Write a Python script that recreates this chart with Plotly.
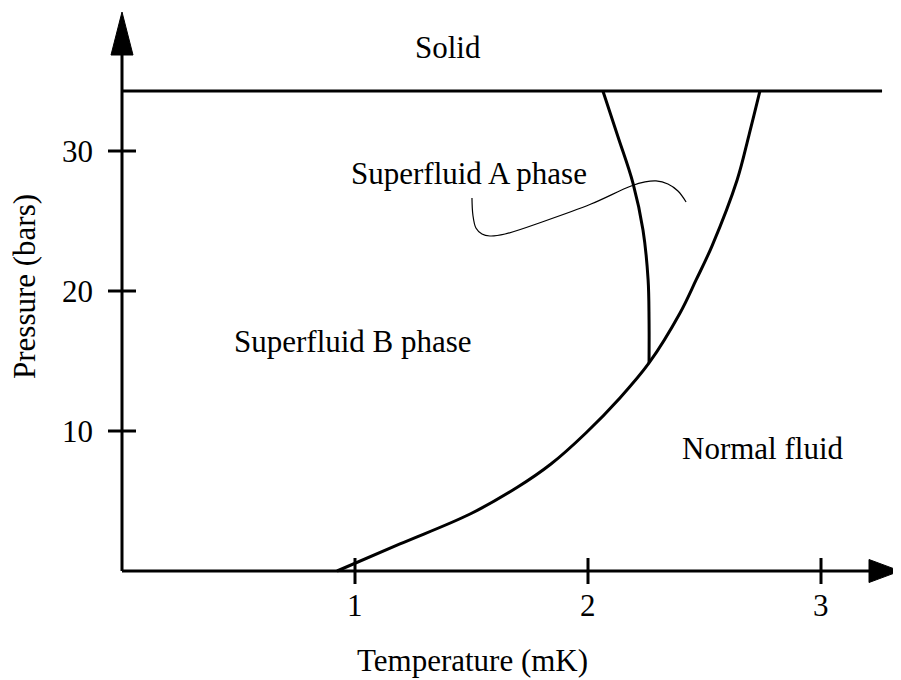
import plotly.graph_objects as go

# ---------------- data ----------------
# Normal fluid / superfluid boundary  (T in mK, P in bars)
normal_T = [0.923, 1.193, 1.494, 1.695, 1.841, 1.991, 2.137, 2.262,
            2.395, 2.464, 2.532, 2.640, 2.691, 2.738]
normal_P = [0.00, 1.93, 4.07, 5.96, 7.64, 9.86, 12.36, 14.86,
            18.43, 20.79, 23.21, 27.93, 31.14, 34.29]

# A-phase / B-phase boundary
ab_T = [2.262, 2.262, 2.258, 2.236, 2.193, 2.129, 2.064]
ab_P = [14.86, 17.93, 20.79, 24.36, 27.71, 31.00, 34.29]

# Solid boundary (melting pressure)
solid_T = [0.0, 3.262]
solid_P = [34.29, 34.29]

# Leader line from the "Superfluid A phase" label
lead_T = [1.502, 1.506, 1.519, 1.545, 1.579, 1.644, 1.815, 2.013, 2.185, 2.245, 2.292, 2.343, 2.386, 2.421]
lead_P = [26.64, 25.43, 24.50, 24.07, 23.93, 24.07, 25.00, 26.21, 27.50, 27.79, 27.86, 27.64, 27.14, 26.36]

x_ticks = [1, 2, 3]
x_tick_labels = ["1", "2", "3"]
y_ticks = [10, 20, 30]
y_tick_labels = ["10", "20", "30"]

region_labels = ["Solid", "Superfluid A phase", "Superfluid B phase", "Normal fluid"]
region_T = [1.401, 1.491, 0.991, 2.749]
region_P = [37.40, 28.39, 16.36, 8.75]

x_title = "Temperature (mK)"
y_title = "Pressure (bars)"

# ---------------- geometry ----------------
W, H = 901, 680
PAGE_OFF = 8                     # default body margin of the html page
X0_PX, Y0_PX = 122, 571          # window pixel of the origin
SX, SY = 233.0, 14.0             # pixels per mK, pixels per bar
x_range = [(PAGE_OFF - X0_PX) / SX, (W + PAGE_OFF - X0_PX) / SX]
y_range = [(Y0_PX - H - PAGE_OFF) / SY, (Y0_PX - PAGE_OFF) / SY]
dx = 1.0 / SX                    # one pixel in data units
dy = 1.0 / SY

FONT = "Liberation Serif, Times New Roman, serif"
FS = 31
LW = 3

fig = go.Figure()

def line(xs, ys, width=LW, shape="linear"):
    fig.add_trace(go.Scatter(x=xs, y=ys, mode="lines",
                             line=dict(color="black", width=width, shape=shape),
                             hoverinfo="skip", showlegend=False))

# axes lines
x_end = (869 - X0_PX) * dx
y_end = (Y0_PX - 55) * dy
line([0, x_end], [0, 0])
line([0, 0], [0, y_end])

# arrowheads
fig.add_trace(go.Scatter(x=[x_end, x_end, (900 - X0_PX) * dx, x_end],
                         y=[11.5 * dy, -11.5 * dy, 0, 11.5 * dy],
                         mode="lines", fill="toself", fillcolor="black",
                         line=dict(color="black", width=1), hoverinfo="skip", showlegend=False))
fig.add_trace(go.Scatter(x=[-11 * dx, 11 * dx, 0, -11 * dx],
                         y=[y_end, y_end, (Y0_PX - 12) * dy, y_end],
                         mode="lines", fill="toself", fillcolor="black",
                         line=dict(color="black", width=1), hoverinfo="skip", showlegend=False))

# ticks crossing the axes
for t in x_ticks:
    line([t, t], [-13 * dy, 13 * dy])
for p in y_ticks:
    line([-14 * dx, 14 * dx], [p, p])

# phase boundaries
line(solid_T, solid_P)
line(normal_T, normal_P, shape="spline")
line(ab_T, ab_P, shape="spline")
line(lead_T, lead_P, width=1.2, shape="spline")

annotations = []
for t, lab in zip(x_ticks, x_tick_labels):
    annotations.append(dict(x=t, y=-34 * dy, text=lab, showarrow=False,
                            xanchor="center", yanchor="middle"))
for p, lab in zip(y_ticks, y_tick_labels):
    annotations.append(dict(x=-27 * dx, y=p, text=lab, showarrow=False,
                            xanchor="right", yanchor="middle"))
for t, p, lab in zip(region_T, region_P, region_labels):
    annotations.append(dict(x=t, y=p, text=lab, showarrow=False,
                            xanchor="center", yanchor="middle"))
annotations.append(dict(x=(472 - X0_PX) * dx, y=(Y0_PX - 660) * dy, text=x_title,
                        showarrow=False, xanchor="center", yanchor="middle"))
annotations.append(dict(x=(24 - X0_PX) * dx, y=(Y0_PX - 287) * dy, text=y_title,
                        showarrow=False, xanchor="center", yanchor="middle", textangle=-90))
for a in annotations:
    a["font"] = dict(family=FONT, size=FS, color="black")

fig.update_layout(
    width=W, height=H,
    margin=dict(l=0, r=0, t=0, b=0),
    paper_bgcolor="white", plot_bgcolor="white",
    xaxis=dict(range=x_range, visible=False, fixedrange=True),
    yaxis=dict(range=y_range, visible=False, fixedrange=True),
    annotations=annotations,
    showlegend=False,
)

fig.write_html("out.html")
